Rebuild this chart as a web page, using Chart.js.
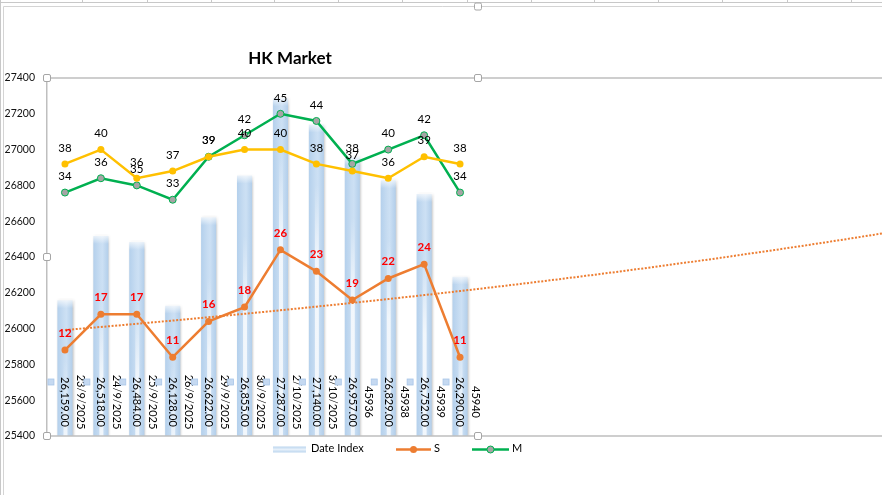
<!DOCTYPE html>
<html>
<head>
<meta charset="utf-8">
<title>HK Market</title>
<script src="https://cdn.jsdelivr.net/npm/chart.js@4.4.1/dist/chart.umd.min.js"></script>
<style>
  html, body { margin: 0; padding: 0; background: #fff; }
  #wrap { position: relative; width: 882px; height: 495px; }
</style>
</head>
<body>
<div id="wrap"><canvas id="hkChart"></canvas></div>
<script>
// Chart data
const dates = ['23/9/2025', '24/9/2025', '25/9/2025', '26/9/2025', '29/9/2025', '30/9/2025',
               '2/10/2025', '3/10/2025', '45936', '45938', '45939', '45940'];
const dateIndex = [26159, 26518, 26484, 26128, 26622, 26855, 27287, 27140, 26957, 26829, 26752, 26290];
const seriesS = [12, 17, 17, 11, 16, 18, 26, 23, 19, 22, 24, 11];
const seriesM = [34, 36, 35, 33, 39, 42, 45, 44, 38, 40, 42, 34];
const seriesL = [38, 40, 36, 37, 39, 40, 40, 38, 37, 36, 39, 38];
const yTicks = [25400, 25600, 25800, 26000, 26200, 26400, 26600, 26800, 27000, 27200, 27400];
const lineAxisMax = 50;   // hidden secondary axis 0..50
const trendForward = 12;  // periods the exponential trend is projected forward

const FONT = 'Lato, "Noto Sans", sans-serif';
const BAR_PCT = 0.42;

// Fill for the bars: light blue, a bit lighter in the middle
function barFill(ctx) {
    const chart = ctx.chart;
    const xs = chart.scales.x;
    if (!chart.chartArea || !xs || ctx.type !== 'data') return '#BDD7EE';
    const cx = xs.getPixelForValue(ctx.dataIndex);
    const w = xs.width / dates.length * BAR_PCT;
    const g = chart.ctx.createLinearGradient(cx - w / 2, 0, cx + w / 2, 0);
    g.addColorStop(0, '#B4D0EC');
    g.addColorStop(0.45, '#C8DDF2');
    g.addColorStop(0.6, '#CCE0F4');
    g.addColorStop(1, '#B2CEEA');
    return g;
}

// Exponential trendline (like Excel), fitted on log values
function expTrend(values) {
    const n = values.length;
    let mx = 0, my = 0;
    values.forEach(function(v, i) { mx += (i + 1) / n; my += Math.log(v) / n; });
    let sxy = 0, sxx = 0;
    values.forEach(function(v, i) {
        sxy += (i + 1 - mx) * (Math.log(v) - my);
        sxx += (i + 1 - mx) * (i + 1 - mx);
    });
    const b = sxy / sxx;
    const a = Math.exp(my - b * mx);
    return function(x) { return a * Math.exp(b * x); };
}
const trendS = expTrend(seriesS);

function drawHandle(ctx, x, y) {
    ctx.save();
    ctx.fillStyle = '#fff';
    ctx.strokeStyle = '#A6A6A6';
    ctx.lineWidth = 1;
    ctx.beginPath();
    ctx.roundRect(x - 3.5, y - 3.5, 7, 7, 1.5);
    ctx.fill();
    ctx.stroke();
    ctx.restore();
}

const decorations = {
    id: 'decorations',
    beforeDraw(chart) {
        const ctx = chart.ctx;
        const W = chart.width, H = chart.height;
        ctx.save();
        ctx.fillStyle = '#fff';
        ctx.fillRect(0, 0, W, H);
        // spreadsheet cells peeking above the chart
        ctx.strokeStyle = '#C8C8C8';
        ctx.lineWidth = 1;
        ctx.beginPath();
        ctx.moveTo(0, 2.5); ctx.lineTo(W, 2.5);
        [82, 147, 211, 274, 338, 402, 467, 531, 594, 658, 722, 787, 851].forEach(function(x) {
            ctx.moveTo(x + 0.5, 0); ctx.lineTo(x + 0.5, 2.5);
        });
        ctx.moveTo(0.5, 0); ctx.lineTo(0.5, H);
        ctx.stroke();
        // chart frame
        ctx.strokeStyle = '#D4D4D4';
        ctx.beginPath();
        ctx.moveTo(3.5, H); ctx.lineTo(3.5, 6.5); ctx.lineTo(W, 6.5);
        ctx.stroke();
        ctx.restore();

        // title
        ctx.save();
        ctx.fillStyle = '#000';
        ctx.font = 'bold 17px ' + FONT;
        ctx.textAlign = 'center';
        ctx.textBaseline = 'middle';
        ctx.fillText('HK Market', 290, 59);
        ctx.restore();
    },
    beforeDatasetDraw(chart, args) {
        if (args.meta.type !== 'bar') return;
        const ctx = chart.ctx;
        ctx.save();
        ctx.shadowColor = 'rgba(0,0,0,0.2)';
        ctx.shadowBlur = 2;
        ctx.shadowOffsetX = 1;
    },
    afterDatasetDraw(chart, args) {
        if (args.meta.type !== 'bar') return;
        const ctx = chart.ctx;
        ctx.restore();
        args.meta.data.forEach(function(el) {
            const h = el.base - el.y;
            // white highlight running down the lower part of the bar
            const s = ctx.createLinearGradient(0, el.y, 0, el.base);
            s.addColorStop(0, 'rgba(255,255,255,0)');
            s.addColorStop(Math.min(0.5, 60 / h), 'rgba(255,255,255,0)');
            s.addColorStop(Math.min(0.85, 140 / h), 'rgba(255,255,255,0.75)');
            s.addColorStop(1, 'rgba(255,255,255,0.55)');
            ctx.fillStyle = s;
            ctx.fillRect(el.x - 1.5, el.y, 4, h);
            // soft top edge
            const g = ctx.createLinearGradient(0, el.y, 0, el.y + 8);
            g.addColorStop(0, 'rgba(255,255,255,0.7)');
            g.addColorStop(1, 'rgba(255,255,255,0)');
            ctx.fillStyle = g;
            ctx.fillRect(el.x - el.width / 2 - 1, el.y - 1, el.width + 3, 9);
        });

        // plot area frame (runs on to the right edge)
        const area = chart.chartArea;
        ctx.save();
        ctx.strokeStyle = '#BFBFBF';
        ctx.lineWidth = 1.5;
        ctx.beginPath();
        ctx.moveTo(area.left, area.top); ctx.lineTo(chart.width, area.top);
        ctx.moveTo(area.left, area.bottom); ctx.lineTo(chart.width, area.bottom);
        ctx.stroke();
        ctx.restore();

        // exponential trendline of S, projected forward
        const xs = chart.scales.x, y2 = chart.scales.y2;
        ctx.save();
        ctx.strokeStyle = '#ED7D31';
        ctx.lineWidth = 2;
        ctx.setLineDash([2, 1.6]);
        ctx.beginPath();
        const last = seriesS.length - 1 + trendForward;
        for (let t = 0; t <= last; t += 0.25) {
            const px = xs.getPixelForValue(t);
            const py = y2.getPixelForValue(trendS(t + 1));
            if (t === 0) ctx.moveTo(px, py); else ctx.lineTo(px, py);
        }
        ctx.stroke();
        ctx.restore();
    },
    afterDatasetsDraw(chart) {
        const ctx = chart.ctx;
        const area = chart.chartArea;
        ctx.save();
        ctx.textAlign = 'center';
        ctx.textBaseline = 'middle';

        // bar labels: key, value and date, rotated
        const barMeta = chart.getDatasetMeta(0);
        barMeta.data.forEach(function(el, i) {
            const cx = el.x;
            const cy = area.bottom - 34;
            ctx.fillStyle = '#C5D9F1';
            ctx.strokeStyle = '#A9C6E8';
            ctx.lineWidth = 0.8;
            ctx.fillRect(cx - 17, cy - 23, 6, 6);
            ctx.strokeRect(cx - 17, cy - 23, 6, 6);
            ctx.fillStyle = '#000';
            ctx.font = '11px ' + FONT;
            const txt = dateIndex[i].toLocaleString('en-US', { minimumFractionDigits: 2, maximumFractionDigits: 2 });
            ctx.save();
            ctx.translate(cx, cy);
            ctx.rotate(Math.PI / 2);
            ctx.fillText(txt, 0, 0);
            ctx.restore();
            ctx.save();
            ctx.translate(cx + 16, cy);
            ctx.rotate(Math.PI / 2);
            ctx.fillText(dates[i], 0, 0);
            ctx.restore();
        });

        // line labels
        chart.data.datasets.forEach(function(ds, di) {
            if (ds.type !== 'line') return;
            const meta = chart.getDatasetMeta(di);
            meta.data.forEach(function(pt, i) {
                if (ds.label === 'S') {
                    ctx.fillStyle = '#FF0000';
                    ctx.font = 'bold 11.5px ' + FONT;
                    ctx.fillText(String(ds.data[i]), pt.x, pt.y - 17);
                } else {
                    ctx.fillStyle = '#000';
                    ctx.font = '11.5px ' + FONT;
                    ctx.fillText(String(ds.data[i]), pt.x, pt.y - 16);
                }
            });
        });
        ctx.restore();

        // selection handles on the plot area and chart frame
        drawHandle(ctx, area.left, area.top);
        drawHandle(ctx, area.right, area.top);
        drawHandle(ctx, area.left, area.bottom);
        drawHandle(ctx, area.right, area.bottom);
        drawHandle(ctx, area.left, (area.top + area.bottom) / 2);
        drawHandle(ctx, area.right, 6.5);

        // legend
        ctx.save();
        const ly = 449.5;
        const g = ctx.createLinearGradient(0, ly - 3, 0, ly + 3);
        g.addColorStop(0, '#BBD5EE');
        g.addColorStop(0.5, '#E6F0FA');
        g.addColorStop(1, '#BBD5EE');
        ctx.fillStyle = g;
        ctx.fillRect(273, ly - 3, 33, 6);
        ctx.fillStyle = '#000';
        ctx.font = '11px ' + FONT;
        ctx.textAlign = 'left';
        ctx.textBaseline = 'middle';
        ctx.fillText('Date Index', 311, ly - 1);

        ctx.lineWidth = 2.5;
        ctx.strokeStyle = '#ED7D31';
        ctx.beginPath(); ctx.moveTo(396, ly); ctx.lineTo(431, ly); ctx.stroke();
        ctx.fillStyle = '#ED7D31';
        ctx.beginPath(); ctx.arc(413.5, ly, 3.5, 0, Math.PI * 2); ctx.fill();
        ctx.fillStyle = '#000';
        ctx.fillText('S', 434, ly - 1);

        ctx.strokeStyle = '#00B050';
        ctx.beginPath(); ctx.moveTo(472, ly); ctx.lineTo(509, ly); ctx.stroke();
        ctx.fillStyle = '#A5A5A5';
        ctx.lineWidth = 1;
        ctx.beginPath(); ctx.arc(490.5, ly, 3.5, 0, Math.PI * 2); ctx.fill(); ctx.stroke();
        ctx.fillStyle = '#000';
        ctx.fillText('M', 512, ly - 1);
        ctx.restore();
    }
};

const ctx = document.getElementById('hkChart').getContext('2d');
const hkChart = new Chart(ctx, {
    data: {
        labels: dates,
        datasets: [
            {
                type: 'bar',
                label: 'Date Index',
                data: dateIndex,
                yAxisID: 'y',
                backgroundColor: barFill,
                borderWidth: 0,
                categoryPercentage: 1,
                barPercentage: BAR_PCT,
                order: 4
            },
            {
                type: 'line',
                label: 'S',
                data: seriesS,
                yAxisID: 'y2',
                borderColor: '#ED7D31',
                borderWidth: 2.5,
                pointRadius: 3.5,
                pointBackgroundColor: '#ED7D31',
                pointBorderWidth: 0,
                tension: 0,
                order: 3
            },
            {
                type: 'line',
                label: 'M',
                data: seriesM,
                yAxisID: 'y2',
                borderColor: '#00B050',
                borderWidth: 2.5,
                pointRadius: 3.5,
                pointBackgroundColor: '#A5A5A5',
                pointBorderColor: '#00B050',
                pointBorderWidth: 1,
                tension: 0,
                order: 2
            },
            {
                type: 'line',
                label: 'L',
                data: seriesL,
                yAxisID: 'y2',
                borderColor: '#FFC000',
                borderWidth: 2.5,
                pointRadius: 3.5,
                pointBackgroundColor: '#FFC000',
                pointBorderWidth: 0,
                tension: 0,
                order: 1
            }
        ]
    },
    options: {
        responsive: true,
        maintainAspectRatio: false,
        animation: false,
        layout: { padding: { left: 0, top: 78, right: 404, bottom: 59 } },
        plugins: {
            legend: { display: false },
            title: { display: false },
            tooltip: { enabled: false }
        },
        scales: {
            x: {
                type: 'category',
                display: false,
                offset: true
            },
            y: {
                position: 'left',
                min: yTicks[0],
                max: yTicks[yTicks.length - 1],
                afterBuildTicks: function(scale) {
                    scale.ticks = yTicks.map(function(v) { return { value: v }; });
                },
                afterFit: function(scale) { scale.width = 47; },
                grid: { display: false, drawTicks: false },
                border: { display: true, color: '#BFBFBF', width: 1.5 },
                ticks: {
                    padding: 12,
                    color: '#111',
                    font: { family: FONT, size: 10.5 },
                    callback: function(v) { return String(v); }
                }
            },
            y2: {
                position: 'right',
                display: false,
                min: 0,
                max: lineAxisMax
            }
        }
    },
    plugins: [decorations]
});
</script>
</body>
</html>
